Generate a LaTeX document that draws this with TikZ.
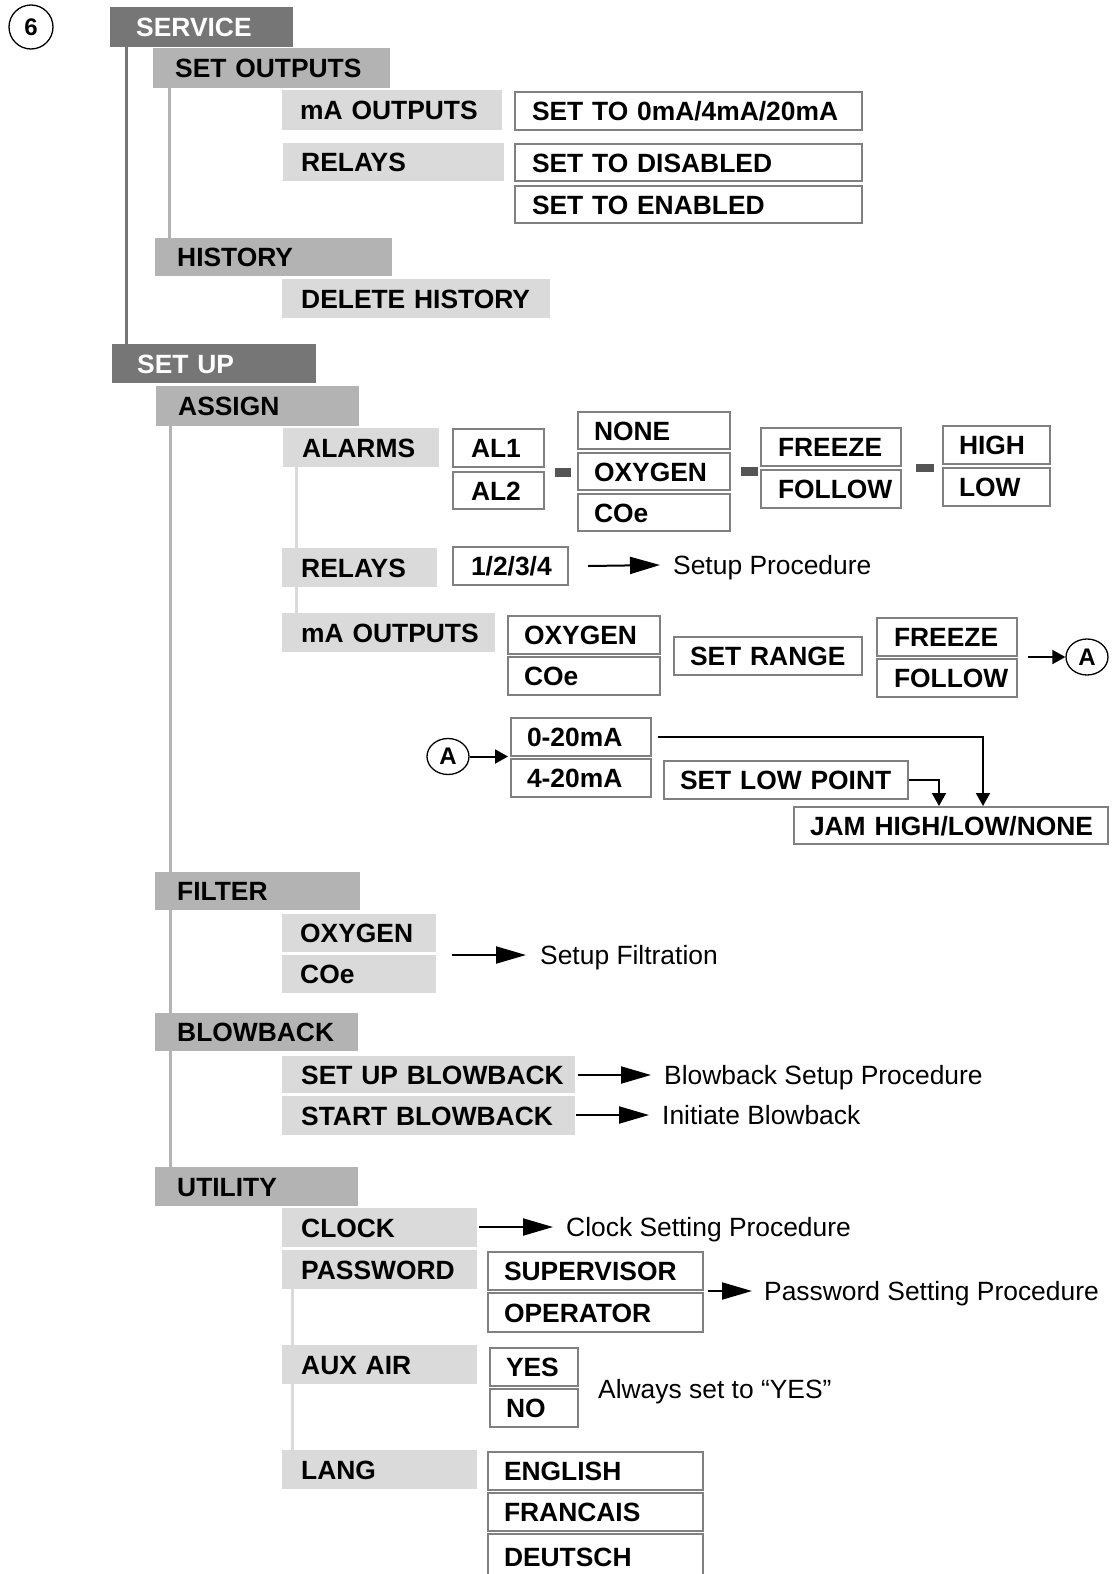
\documentclass[tikz,border=0pt]{standalone}
\usepackage{fontspec}
\setmainfont{Liberation Sans}
\usetikzlibrary{arrows.meta,shapes.geometric}

\definecolor{darkbar}{HTML}{767676}
\definecolor{midbar}{HTML}{B3B3B3}
\definecolor{lightbar}{HTML}{DADADA}
\definecolor{optline}{HTML}{808080}
\definecolor{barfill}{HTML}{555555}

\newcommand{\menufont}{\fontsize{26.4pt}{30pt}\selectfont\bfseries}
\newcommand{\notefont}{\fontsize{26.4pt}{30pt}\selectfont}

\begin{document}
\begin{tikzpicture}[x=1pt, y=-1pt,
    cell/.style n args={3}{anchor=north west, minimum width=#1, minimum height=#2,
      text width=#1, inner xsep=0pt, inner ysep=0pt, align=left,
      text height=19pt, text depth=0pt, font=\menufont,
      execute at begin node={\hspace*{#3}}},
    lvone/.style={fill=darkbar, text=white},
    lvtwo/.style={fill=midbar},
    lvthree/.style={fill=lightbar},
    opt/.style={draw=optline, line width=2pt, fill=white},
    note/.style={anchor=west, inner sep=0pt, text height=19pt, text depth=0pt, font=\notefont},
    tag/.style={draw, line width=1.3pt, inner sep=0pt, font=\fontsize{24pt}{28pt}\selectfont\bfseries},
    trunkone/.style={draw=darkbar, line width=3pt},
    trunktwo/.style={draw=midbar, line width=3pt},
    trunkthree/.style={draw=lightbar, line width=3pt},
    joint/.style={draw=barfill, line width=8.5pt},
    goto/.style={line width=2pt, -{Triangle[length=30pt,width=17pt]}},
    jump/.style={line width=2pt, -{Triangle[length=13pt,width=14pt]}}]

  \useasboundingbox (0,0) rectangle (1115,1574);

  \node[tag, circle, minimum size=44pt] (six) at (31,27) {6};

  % service menu
  \node[lvone, cell={183pt}{40pt}{26pt}] (service) at (110,7) {SERVICE};
  \node[lvtwo, cell={237pt}{40pt}{22pt}] (setout) at (153,48) {SET OUTPUTS};
  \node[lvthree, cell={220pt}{40pt}{18pt}] (maouts) at (282,90) {mA OUTPUTS};
  \node[lvthree, cell={221pt}{38pt}{18pt}] (relays) at (283,143) {RELAYS};
  \node[opt, cell={347pt}{38pt}{17pt}] (settoma) at (514,91) {SET TO 0mA/4mA/20mA};
  \node[opt, cell={347pt}{37pt}{17pt}] (setdis) at (514,143) {SET TO DISABLED};
  \node[opt, cell={347pt}{37pt}{17pt}] (seten) at (514,185) {SET TO ENABLED};
  \node[lvtwo, cell={237pt}{38pt}{22pt}] (history) at (155,238) {HISTORY};
  \node[lvthree, cell={268pt}{39pt}{19pt}] (delhist) at (282,279) {DELETE HISTORY};

  % set up menu
  \node[lvone, cell={204pt}{39pt}{25pt}] (setup) at (112,344) {SET UP};
  \node[lvtwo, cell={203pt}{40pt}{22pt}] (assign) at (156,386) {ASSIGN};

  \node[lvthree, cell={156pt}{39pt}{19pt}] (alarms) at (283,428) {ALARMS};
  \node[opt, cell={91pt}{38pt}{18pt}] (al1) at (452,428) {AL1};
  \node[opt, cell={91pt}{37pt}{18pt}] (al2) at (452,471) {AL2};
  \node[opt, cell={152pt}{37pt}{16pt}] (none) at (577,411) {NONE};
  \node[opt, cell={152pt}{37pt}{16pt}] (oxya) at (577,452) {OXYGEN};
  \node[opt, cell={152pt}{37pt}{16pt}] (coea) at (577,493) {COe};
  \node[opt, cell={140pt}{38pt}{17pt}] (freeze) at (760,427) {FREEZE};
  \node[opt, cell={140pt}{38pt}{17pt}] (follow) at (760,469) {FOLLOW};
  \node[opt, cell={107pt}{38pt}{16pt}] (high) at (942,425) {HIGH};
  \node[opt, cell={107pt}{38pt}{16pt}] (low) at (942,467) {LOW};

  \node[lvthree, cell={155pt}{39pt}{19pt}] (relaysb) at (282,548) {RELAYS};
  \node[opt, cell={115pt}{38pt}{18pt}] (relnum) at (452,546) {1/2/3/4};
  \node[note] (setupproc) at (673,565) {Setup Procedure};

  \node[lvthree, cell={213pt}{39pt}{19pt}] (maoutsb) at (282,613) {mA OUTPUTS};
  \node[opt, cell={152pt}{38pt}{16pt}] (oxyb) at (507,615) {OXYGEN};
  \node[opt, cell={152pt}{38pt}{16pt}] (coeb) at (507,656) {COe};
  \node[opt, cell={188pt}{38pt}{16pt}] (setrange) at (673,636) {SET RANGE};
  \node[opt, cell={140pt}{38pt}{17pt}] (freezeb) at (876,617) {FREEZE};
  \node[opt, cell={140pt}{38pt}{17pt}] (followb) at (876,658) {FOLLOW};
  \node[tag, ellipse, minimum width=42pt, minimum height=36pt] (aright) at (1087,657) {A};

  \node[tag, ellipse, minimum width=42pt, minimum height=36pt] (aleft) at (448,756.5) {A};
  \node[opt, cell={140pt}{38pt}{16pt}] (rzero) at (510,717) {0-20mA};
  \node[opt, cell={140pt}{38pt}{16pt}] (rfour) at (510,758) {4-20mA};
  \node[opt, cell={244pt}{38pt}{16pt}] (setlow) at (663,760) {SET LOW POINT};
  \node[opt, cell={314pt}{37pt}{16pt}] (jam) at (793,806) {JAM HIGH/LOW/NONE};

  \node[lvtwo, cell={205pt}{38pt}{22pt}] (filter) at (155,872) {FILTER};
  \node[lvthree, cell={154pt}{38pt}{18pt}] (foxy) at (282,914) {OXYGEN};
  \node[lvthree, cell={154pt}{38pt}{18pt}] (fcoe) at (282,955) {COe};
  \node[note] (filtproc) at (540,955) {Setup Filtration};

  \node[lvtwo, cell={203pt}{38pt}{22pt}] (blowback) at (155,1013) {BLOWBACK};
  \node[lvthree, cell={293pt}{37pt}{19pt}] (setbb) at (282,1056) {SET UP BLOWBACK};
  \node[lvthree, cell={293pt}{39pt}{19pt}] (startbb) at (282,1096) {START BLOWBACK};
  \node[note] (bbproc) at (664,1075) {Blowback Setup Procedure};
  \node[note] (initbb) at (662,1115) {Initiate Blowback};

  \node[lvtwo, cell={203pt}{39pt}{22pt}] (utility) at (155,1167) {UTILITY};
  \node[lvthree, cell={195pt}{39pt}{19pt}] (clock) at (282,1208) {CLOCK};
  \node[note] (clkproc) at (566,1227) {Clock Setting Procedure};
  \node[lvthree, cell={195pt}{39pt}{19pt}] (password) at (282,1250) {PASSWORD};
  \node[opt, cell={215pt}{38pt}{16pt}] (super) at (487,1251) {SUPERVISOR};
  \node[opt, cell={215pt}{39pt}{16pt}] (oper) at (487,1292) {OPERATOR};
  \node[note] (pwproc) at (764,1291) {Password Setting Procedure};
  \node[lvthree, cell={195pt}{39pt}{19pt}] (auxair) at (282,1345) {AUX AIR};
  \node[opt, cell={88pt}{38pt}{16pt}] (yes) at (489,1347) {YES};
  \node[opt, cell={88pt}{38pt}{16pt}] (no) at (489,1388) {NO};
  \node[note] (always) at (598,1389) {Always set to “YES”};
  \node[lvthree, cell={195pt}{39pt}{19pt}] (lang) at (282,1450) {LANG};
  \node[opt, cell={215pt}{38pt}{16pt}] (english) at (487,1451) {ENGLISH};
  \node[opt, cell={215pt}{38pt}{16pt}] (francais) at (487,1492) {FRANCAIS};
  \node[opt, cell={215pt}{46pt}{16pt}] (deutsch) at (487,1533) {DEUTSCH};

  % menu trunks
  \draw[trunkone] ([xshift=16pt]service.south west) -- ([xshift=14pt]setup.north west);
  \draw[trunktwo] ([xshift=16pt]setout.south west) -- ([xshift=14pt]history.north west);
  \draw[trunktwo] ([xshift=14pt]assign.south west) -- ([xshift=15pt]filter.north west);
  \draw[trunktwo] ([xshift=15pt]filter.south west) -- ([xshift=15pt]blowback.north west);
  \draw[trunktwo] ([xshift=15pt]blowback.south west) -- ([xshift=15pt]utility.north west);
  \draw[trunkthree] ([xshift=13pt]alarms.south west) -- ([xshift=14pt]relaysb.north west);
  \draw[trunkthree] ([xshift=14pt]relaysb.south west) -- ([xshift=14pt]maoutsb.north west);
  \draw[trunkthree] ([xshift=10pt]password.south west) -- ([xshift=10pt]auxair.north west);
  \draw[trunkthree] ([xshift=10pt]auxair.south west) -- ([xshift=10pt]lang.north west);

  % alarm joints
  \draw[joint] (al1.south east) ++(10,4.5) -- ++(16,0);
  \draw[joint] (oxya.east) ++(10,0) -- ++(17,0);
  \draw[joint] (follow.north east) ++(14,-1) -- ++(18,0);

  % procedure arrows
  \draw[goto] ([xshift=19pt]relnum.east) -- ([xshift=-13pt]setupproc.west);
  \draw[goto] ([xshift=16pt]filtproc.west -| foxy.east) -- ([xshift=-14pt]filtproc.west);
  \draw[goto] ([xshift=3pt]bbproc.west -| setbb.east) -- ([xshift=-13pt]bbproc.west);
  \draw[goto] ([xshift=1pt]initbb.west -| startbb.east) -- ([xshift=-13pt]initbb.west);
  \draw[goto] ([xshift=2pt]clkproc.west -| clock.east) -- ([xshift=-13pt]clkproc.west);
  \draw[goto] ([xshift=4pt]pwproc.west -| super.east) -- ([xshift=-12pt]pwproc.west);

  % range arrows
  \draw[jump] ([xshift=10pt]aright.west -| freezeb.east) -- (aright.west);
  \draw[jump] (aleft.east) -- ([xshift=-2pt]aleft.east -| rzero.west);
  \draw[jump] ([xshift=6pt]rzero.east) -| ([xshift=32pt]jam.north);
  \draw[jump] (setlow.east) -| ([xshift=-12pt]jam.north);
\end{tikzpicture}
\end{document}
